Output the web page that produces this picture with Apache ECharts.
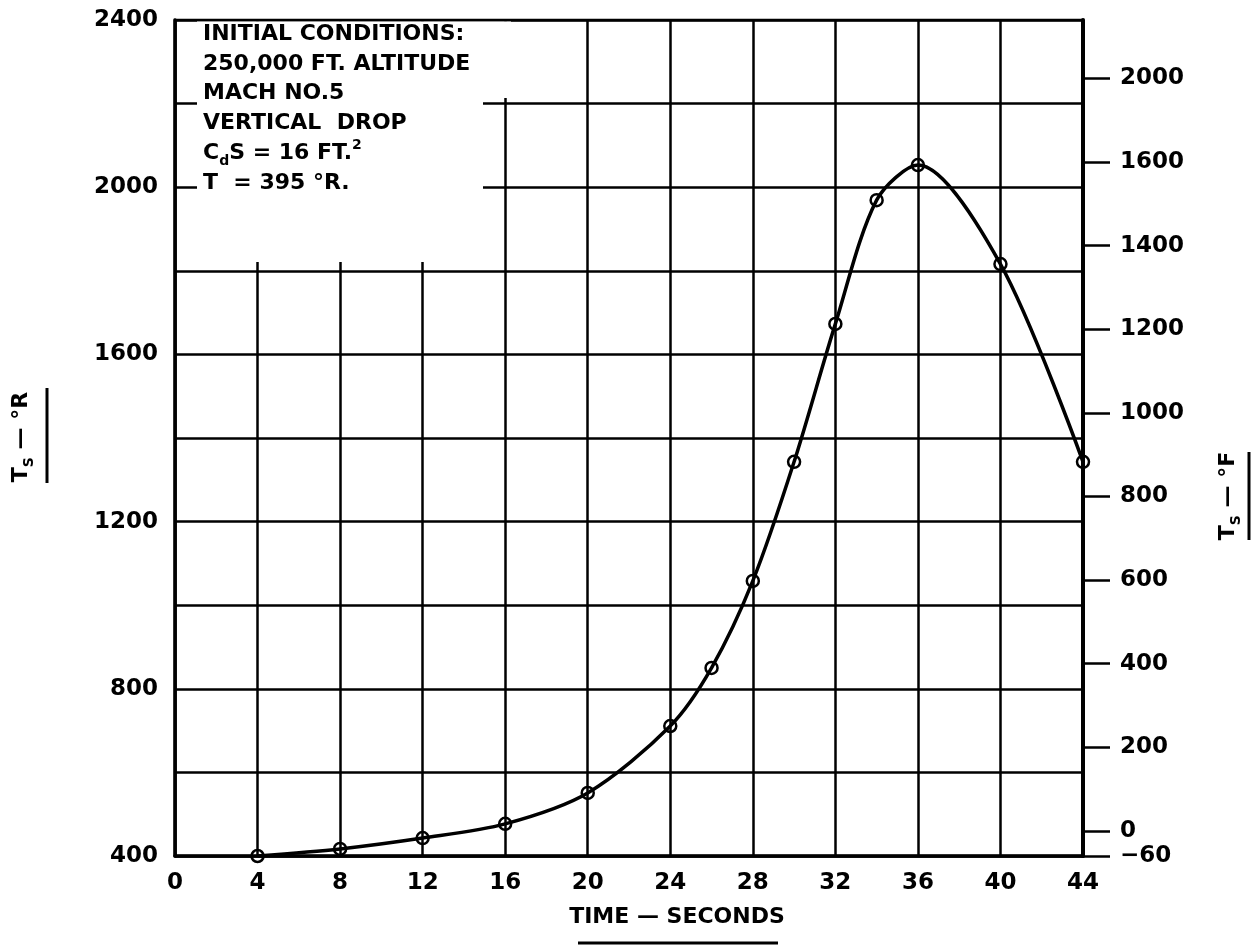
<!DOCTYPE html>
<html>
<head>
<meta charset="utf-8">
<script src="https://cdn.jsdelivr.net/npm/echarts@6/dist/echarts.min.js"></script>
<style>
html,body{margin:0;padding:0;background:#fff;}
#chart{width:1255px;height:951px;}
</style>
</head>
<body>
<div id="chart"></div>
<script>
// ---- data ----
const timeSec = [4, 8, 12, 16, 20, 24, 26, 28, 30, 32, 34, 36, 40, 44];
const tempR   = [400, 417, 443, 477, 551, 711, 850, 1058, 1343, 1673, 1969, 2053, 1816, 1343];
const xTicks = [0, 4, 8, 12, 16, 20, 24, 28, 32, 36, 40, 44];
const leftLabelValues = [400, 800, 1200, 1600, 2000, 2400];
const rightTickValues = [-60, 0, 200, 400, 600, 800, 1000, 1200, 1400, 1600, 1800];
const rightTickLabels = ['\u221260', '0', '200', '400', '600', '800', '1000', '1200', '1400', '1600', '2000'];
const noteLines = [
  '{m|INITIAL CONDITIONS:}',
  '{m|250,000 FT. ALTITUDE}',
  '{m|MACH NO.5}',
  '{m|VERTICAL  DROP}',
  '{m|C}{sub|d}{m|S = 16 FT.}{sup|2}',
  '{m|T  = 395 °R.}'
];
const xTitle = 'TIME \u2014 SECONDS';
const leftTitle = '{t|T}{s|S}{t| \u2014 °R}';
const rightTitle = '{t|T}{s|S}{t| \u2014 °F}';

const FONT = 'DejaVu Sans';
const chart = echarts.init(document.getElementById('chart'), null, {renderer: 'canvas'});

const richMain = {
  m: {fontSize: 22, fontWeight: 'bold', fontFamily: FONT, color: '#000', lineHeight: 30, verticalAlign: 'middle'},
  sub: {fontSize: 14, fontWeight: 'bold', fontFamily: FONT, color: '#000', lineHeight: 12, verticalAlign: 'bottom'},
  sup: {fontSize: 14, fontWeight: 'bold', fontFamily: FONT, color: '#000', lineHeight: 12, verticalAlign: 'top'}
};
const richTitle = {
  t: {fontSize: 22, fontWeight: 'bold', fontFamily: FONT, color: '#000', lineHeight: 30, verticalAlign: 'middle'},
  s: {fontSize: 14, fontWeight: 'bold', fontFamily: FONT, color: '#000', lineHeight: 12, verticalAlign: 'bottom'}
};

const graphics = [
  // white box that interrupts the grid behind the note
  {type: 'rect', z: 10, shape: {x: 197, y: 21.5, width: 286, height: 240.5}, style: {fill: '#fff'}},
  {type: 'rect', z: 10, shape: {x: 483, y: 21.5, width: 28, height: 76.5}, style: {fill: '#fff'}},
  // underlines of the axis titles
  {type: 'line', z: 10, shape: {x1: 578, y1: 943, x2: 778, y2: 943}, style: {stroke: '#000', lineWidth: 3}},
  {type: 'line', z: 10, shape: {x1: 47, y1: 388, x2: 47, y2: 483}, style: {stroke: '#000', lineWidth: 3}},
  {type: 'line', z: 10, shape: {x1: 1249, y1: 452, x2: 1249, y2: 540}, style: {stroke: '#000', lineWidth: 3}},
  // axis titles
  {type: 'text', z: 11, x: 677, y: 917, style: {text: '{t|' + xTitle + '}', rich: richTitle, align: 'center', verticalAlign: 'middle'}},
  {type: 'text', z: 11, x: 21, y: 437, rotation: Math.PI / 2, style: {text: leftTitle, rich: richTitle, align: 'center', verticalAlign: 'middle'}},
  {type: 'text', z: 11, x: 1228, y: 496, rotation: Math.PI / 2, style: {text: rightTitle, rich: richTitle, align: 'center', verticalAlign: 'middle'}}
];
noteLines.forEach(function (line, i) {
  graphics.push({type: 'text', z: 11, x: 203, y: 34 + i * 29.8,
    style: {text: line, rich: richMain, align: 'left', verticalAlign: 'middle'}});
});

const labelStyle = {color: '#000', fontSize: 23, fontWeight: 'bold', fontFamily: FONT};

chart.setOption({
  animation: false,
  backgroundColor: '#fff',
  grid: {left: 175, right: 172, top: 20, bottom: 95, show: true, borderColor: '#000', borderWidth: 2.5},
  xAxis: {
    type: 'value', min: 0, max: 44, interval: 4,
    axisLine: {show: true, onZero: false, lineStyle: {color: '#000', width: 3.5}},
    axisTick: {show: false},
    axisLabel: Object.assign({margin: 16, customValues: xTicks, formatter: function (v) { return String(v); }}, labelStyle),
    splitLine: {show: true, lineStyle: {color: '#000', width: 2.5}}
  },
  yAxis: [
    {
      type: 'value', min: 400, max: 2400, interval: 200, position: 'left',
      axisLine: {show: true, onZero: false, lineStyle: {color: '#000', width: 3.5}},
      axisTick: {show: false},
      axisLabel: Object.assign({margin: 17, customValues: leftLabelValues, formatter: function (v) { return String(v); }}, labelStyle),
      splitLine: {show: true, lineStyle: {color: '#000', width: 2.5}}
    },
    {
      type: 'value', min: -60, max: 1940, position: 'right',
      axisLine: {show: true, onZero: false, lineStyle: {color: '#000', width: 4}},
      axisTick: {show: true, inside: false, length: 27, customValues: rightTickValues, lineStyle: {color: '#000', width: 2.5}},
      axisLabel: Object.assign({
        margin: 37, customValues: rightTickValues,
        formatter: function (v) { const k = rightTickValues.indexOf(v); return k >= 0 ? rightTickLabels[k] : ''; }
      }, labelStyle),
      splitLine: {show: false}
    }
  ],
  series: [{
    type: 'line',
    yAxisIndex: 0,
    data: timeSec.map(function (t, i) { return [t, tempR[i]]; }),
    smooth: 0.3,
    symbol: 'circle',
    symbolSize: 12,
    lineStyle: {color: '#000', width: 3.5},
    itemStyle: {color: 'rgba(255,255,255,0)', borderColor: '#000', borderWidth: 2.5},
    z: 20
  }],
  graphic: graphics
});
</script>
</body>
</html>
